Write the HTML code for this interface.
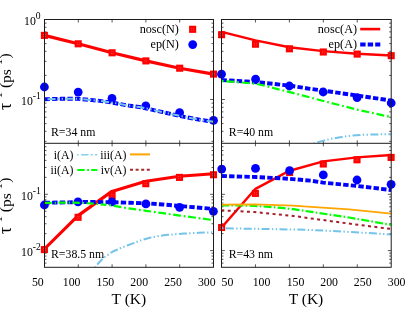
<!DOCTYPE html>
<html><head><meta charset="utf-8"><title>chart</title>
<style>svg{will-change:transform}html,body{margin:0;padding:0;background:#fff;overflow:hidden}body{width:409px;height:312px;font-family:"Liberation Serif",serif}</style>
</head><body>
<svg width="409" height="312" viewBox="0 0 409 312" style="display:block;font-family:'Liberation Serif',serif">
<rect width="409" height="312" fill="#fff"/>
<defs>
<clipPath id="cTL"><rect x="44.5" y="19.5" width="169.0" height="123.80000000000001"/></clipPath>
<clipPath id="cTR"><rect x="221.5" y="19.5" width="169.7" height="123.80000000000001"/></clipPath>
<clipPath id="cBL"><rect x="44.5" y="143.3" width="169.0" height="124.0"/></clipPath>
<clipPath id="cBR"><rect x="221.5" y="143.3" width="169.7" height="124.0"/></clipPath>
</defs>
<g stroke="#444" stroke-width="0.9" fill="none">
<line x1="78.30" y1="19.5" x2="78.30" y2="22.5"/>
<line x1="78.30" y1="140.3" x2="78.30" y2="146.3"/>
<line x1="78.30" y1="267.3" x2="78.30" y2="264.3"/>
<line x1="112.10" y1="19.5" x2="112.10" y2="22.5"/>
<line x1="112.10" y1="140.3" x2="112.10" y2="146.3"/>
<line x1="112.10" y1="267.3" x2="112.10" y2="264.3"/>
<line x1="145.90" y1="19.5" x2="145.90" y2="22.5"/>
<line x1="145.90" y1="140.3" x2="145.90" y2="146.3"/>
<line x1="145.90" y1="267.3" x2="145.90" y2="264.3"/>
<line x1="179.70" y1="19.5" x2="179.70" y2="22.5"/>
<line x1="179.70" y1="140.3" x2="179.70" y2="146.3"/>
<line x1="179.70" y1="267.3" x2="179.70" y2="264.3"/>
<line x1="44.5" y1="99.50" x2="47.9" y2="99.50"/>
<line x1="213.5" y1="99.50" x2="210.1" y2="99.50"/>
<line x1="44.5" y1="75.42" x2="46.5" y2="75.42"/>
<line x1="213.5" y1="75.42" x2="211.5" y2="75.42"/>
<line x1="44.5" y1="61.33" x2="46.5" y2="61.33"/>
<line x1="213.5" y1="61.33" x2="211.5" y2="61.33"/>
<line x1="44.5" y1="51.34" x2="46.5" y2="51.34"/>
<line x1="213.5" y1="51.34" x2="211.5" y2="51.34"/>
<line x1="44.5" y1="43.58" x2="46.5" y2="43.58"/>
<line x1="213.5" y1="43.58" x2="211.5" y2="43.58"/>
<line x1="44.5" y1="37.25" x2="46.5" y2="37.25"/>
<line x1="213.5" y1="37.25" x2="211.5" y2="37.25"/>
<line x1="44.5" y1="31.89" x2="46.5" y2="31.89"/>
<line x1="213.5" y1="31.89" x2="211.5" y2="31.89"/>
<line x1="44.5" y1="27.25" x2="46.5" y2="27.25"/>
<line x1="213.5" y1="27.25" x2="211.5" y2="27.25"/>
<line x1="44.5" y1="23.16" x2="46.5" y2="23.16"/>
<line x1="213.5" y1="23.16" x2="211.5" y2="23.16"/>
<line x1="44.5" y1="141.33" x2="46.5" y2="141.33"/>
<line x1="213.5" y1="141.33" x2="211.5" y2="141.33"/>
<line x1="44.5" y1="131.34" x2="46.5" y2="131.34"/>
<line x1="213.5" y1="131.34" x2="211.5" y2="131.34"/>
<line x1="44.5" y1="123.58" x2="46.5" y2="123.58"/>
<line x1="213.5" y1="123.58" x2="211.5" y2="123.58"/>
<line x1="44.5" y1="117.25" x2="46.5" y2="117.25"/>
<line x1="213.5" y1="117.25" x2="211.5" y2="117.25"/>
<line x1="44.5" y1="111.89" x2="46.5" y2="111.89"/>
<line x1="213.5" y1="111.89" x2="211.5" y2="111.89"/>
<line x1="44.5" y1="107.25" x2="46.5" y2="107.25"/>
<line x1="213.5" y1="107.25" x2="211.5" y2="107.25"/>
<line x1="44.5" y1="103.16" x2="46.5" y2="103.16"/>
<line x1="213.5" y1="103.16" x2="211.5" y2="103.16"/>
<line x1="44.5" y1="194.30" x2="47.9" y2="194.30"/>
<line x1="213.5" y1="194.30" x2="210.1" y2="194.30"/>
<line x1="44.5" y1="177.35" x2="46.5" y2="177.35"/>
<line x1="213.5" y1="177.35" x2="211.5" y2="177.35"/>
<line x1="44.5" y1="167.44" x2="46.5" y2="167.44"/>
<line x1="213.5" y1="167.44" x2="211.5" y2="167.44"/>
<line x1="44.5" y1="160.40" x2="46.5" y2="160.40"/>
<line x1="213.5" y1="160.40" x2="211.5" y2="160.40"/>
<line x1="44.5" y1="154.95" x2="46.5" y2="154.95"/>
<line x1="213.5" y1="154.95" x2="211.5" y2="154.95"/>
<line x1="44.5" y1="150.49" x2="46.5" y2="150.49"/>
<line x1="213.5" y1="150.49" x2="211.5" y2="150.49"/>
<line x1="44.5" y1="146.72" x2="46.5" y2="146.72"/>
<line x1="213.5" y1="146.72" x2="211.5" y2="146.72"/>
<line x1="44.5" y1="250.60" x2="47.9" y2="250.60"/>
<line x1="213.5" y1="250.60" x2="210.1" y2="250.60"/>
<line x1="44.5" y1="233.65" x2="46.5" y2="233.65"/>
<line x1="213.5" y1="233.65" x2="211.5" y2="233.65"/>
<line x1="44.5" y1="223.74" x2="46.5" y2="223.74"/>
<line x1="213.5" y1="223.74" x2="211.5" y2="223.74"/>
<line x1="44.5" y1="216.70" x2="46.5" y2="216.70"/>
<line x1="213.5" y1="216.70" x2="211.5" y2="216.70"/>
<line x1="44.5" y1="211.25" x2="46.5" y2="211.25"/>
<line x1="213.5" y1="211.25" x2="211.5" y2="211.25"/>
<line x1="44.5" y1="206.79" x2="46.5" y2="206.79"/>
<line x1="213.5" y1="206.79" x2="211.5" y2="206.79"/>
<line x1="44.5" y1="203.02" x2="46.5" y2="203.02"/>
<line x1="213.5" y1="203.02" x2="211.5" y2="203.02"/>
<line x1="44.5" y1="199.76" x2="46.5" y2="199.76"/>
<line x1="213.5" y1="199.76" x2="211.5" y2="199.76"/>
<line x1="44.5" y1="196.88" x2="46.5" y2="196.88"/>
<line x1="213.5" y1="196.88" x2="211.5" y2="196.88"/>
<line x1="44.5" y1="263.09" x2="46.5" y2="263.09"/>
<line x1="213.5" y1="263.09" x2="211.5" y2="263.09"/>
<line x1="44.5" y1="259.32" x2="46.5" y2="259.32"/>
<line x1="213.5" y1="259.32" x2="211.5" y2="259.32"/>
<line x1="44.5" y1="256.06" x2="46.5" y2="256.06"/>
<line x1="213.5" y1="256.06" x2="211.5" y2="256.06"/>
<line x1="44.5" y1="253.18" x2="46.5" y2="253.18"/>
<line x1="213.5" y1="253.18" x2="211.5" y2="253.18"/>
<line x1="255.44" y1="19.5" x2="255.44" y2="22.5"/>
<line x1="255.44" y1="140.3" x2="255.44" y2="146.3"/>
<line x1="255.44" y1="267.3" x2="255.44" y2="264.3"/>
<line x1="289.38" y1="19.5" x2="289.38" y2="22.5"/>
<line x1="289.38" y1="140.3" x2="289.38" y2="146.3"/>
<line x1="289.38" y1="267.3" x2="289.38" y2="264.3"/>
<line x1="323.32" y1="19.5" x2="323.32" y2="22.5"/>
<line x1="323.32" y1="140.3" x2="323.32" y2="146.3"/>
<line x1="323.32" y1="267.3" x2="323.32" y2="264.3"/>
<line x1="357.26" y1="19.5" x2="357.26" y2="22.5"/>
<line x1="357.26" y1="140.3" x2="357.26" y2="146.3"/>
<line x1="357.26" y1="267.3" x2="357.26" y2="264.3"/>
<line x1="221.5" y1="99.50" x2="224.9" y2="99.50"/>
<line x1="391.2" y1="99.50" x2="387.8" y2="99.50"/>
<line x1="221.5" y1="75.42" x2="223.5" y2="75.42"/>
<line x1="391.2" y1="75.42" x2="389.2" y2="75.42"/>
<line x1="221.5" y1="61.33" x2="223.5" y2="61.33"/>
<line x1="391.2" y1="61.33" x2="389.2" y2="61.33"/>
<line x1="221.5" y1="51.34" x2="223.5" y2="51.34"/>
<line x1="391.2" y1="51.34" x2="389.2" y2="51.34"/>
<line x1="221.5" y1="43.58" x2="223.5" y2="43.58"/>
<line x1="391.2" y1="43.58" x2="389.2" y2="43.58"/>
<line x1="221.5" y1="37.25" x2="223.5" y2="37.25"/>
<line x1="391.2" y1="37.25" x2="389.2" y2="37.25"/>
<line x1="221.5" y1="31.89" x2="223.5" y2="31.89"/>
<line x1="391.2" y1="31.89" x2="389.2" y2="31.89"/>
<line x1="221.5" y1="27.25" x2="223.5" y2="27.25"/>
<line x1="391.2" y1="27.25" x2="389.2" y2="27.25"/>
<line x1="221.5" y1="23.16" x2="223.5" y2="23.16"/>
<line x1="391.2" y1="23.16" x2="389.2" y2="23.16"/>
<line x1="221.5" y1="141.33" x2="223.5" y2="141.33"/>
<line x1="391.2" y1="141.33" x2="389.2" y2="141.33"/>
<line x1="221.5" y1="131.34" x2="223.5" y2="131.34"/>
<line x1="391.2" y1="131.34" x2="389.2" y2="131.34"/>
<line x1="221.5" y1="123.58" x2="223.5" y2="123.58"/>
<line x1="391.2" y1="123.58" x2="389.2" y2="123.58"/>
<line x1="221.5" y1="117.25" x2="223.5" y2="117.25"/>
<line x1="391.2" y1="117.25" x2="389.2" y2="117.25"/>
<line x1="221.5" y1="111.89" x2="223.5" y2="111.89"/>
<line x1="391.2" y1="111.89" x2="389.2" y2="111.89"/>
<line x1="221.5" y1="107.25" x2="223.5" y2="107.25"/>
<line x1="391.2" y1="107.25" x2="389.2" y2="107.25"/>
<line x1="221.5" y1="103.16" x2="223.5" y2="103.16"/>
<line x1="391.2" y1="103.16" x2="389.2" y2="103.16"/>
<line x1="221.5" y1="194.30" x2="224.9" y2="194.30"/>
<line x1="391.2" y1="194.30" x2="387.8" y2="194.30"/>
<line x1="221.5" y1="177.35" x2="223.5" y2="177.35"/>
<line x1="391.2" y1="177.35" x2="389.2" y2="177.35"/>
<line x1="221.5" y1="167.44" x2="223.5" y2="167.44"/>
<line x1="391.2" y1="167.44" x2="389.2" y2="167.44"/>
<line x1="221.5" y1="160.40" x2="223.5" y2="160.40"/>
<line x1="391.2" y1="160.40" x2="389.2" y2="160.40"/>
<line x1="221.5" y1="154.95" x2="223.5" y2="154.95"/>
<line x1="391.2" y1="154.95" x2="389.2" y2="154.95"/>
<line x1="221.5" y1="150.49" x2="223.5" y2="150.49"/>
<line x1="391.2" y1="150.49" x2="389.2" y2="150.49"/>
<line x1="221.5" y1="146.72" x2="223.5" y2="146.72"/>
<line x1="391.2" y1="146.72" x2="389.2" y2="146.72"/>
<line x1="221.5" y1="250.60" x2="224.9" y2="250.60"/>
<line x1="391.2" y1="250.60" x2="387.8" y2="250.60"/>
<line x1="221.5" y1="233.65" x2="223.5" y2="233.65"/>
<line x1="391.2" y1="233.65" x2="389.2" y2="233.65"/>
<line x1="221.5" y1="223.74" x2="223.5" y2="223.74"/>
<line x1="391.2" y1="223.74" x2="389.2" y2="223.74"/>
<line x1="221.5" y1="216.70" x2="223.5" y2="216.70"/>
<line x1="391.2" y1="216.70" x2="389.2" y2="216.70"/>
<line x1="221.5" y1="211.25" x2="223.5" y2="211.25"/>
<line x1="391.2" y1="211.25" x2="389.2" y2="211.25"/>
<line x1="221.5" y1="206.79" x2="223.5" y2="206.79"/>
<line x1="391.2" y1="206.79" x2="389.2" y2="206.79"/>
<line x1="221.5" y1="203.02" x2="223.5" y2="203.02"/>
<line x1="391.2" y1="203.02" x2="389.2" y2="203.02"/>
<line x1="221.5" y1="199.76" x2="223.5" y2="199.76"/>
<line x1="391.2" y1="199.76" x2="389.2" y2="199.76"/>
<line x1="221.5" y1="196.88" x2="223.5" y2="196.88"/>
<line x1="391.2" y1="196.88" x2="389.2" y2="196.88"/>
<line x1="221.5" y1="263.09" x2="223.5" y2="263.09"/>
<line x1="391.2" y1="263.09" x2="389.2" y2="263.09"/>
<line x1="221.5" y1="259.32" x2="223.5" y2="259.32"/>
<line x1="391.2" y1="259.32" x2="389.2" y2="259.32"/>
<line x1="221.5" y1="256.06" x2="223.5" y2="256.06"/>
<line x1="391.2" y1="256.06" x2="389.2" y2="256.06"/>
<line x1="221.5" y1="253.18" x2="223.5" y2="253.18"/>
<line x1="391.2" y1="253.18" x2="389.2" y2="253.18"/>
</g>
<g>
<polyline points="44.4,35.4 78.2,43.8 112.1,52.8 145.9,60.9 179.7,68.2 213.5,74.1" stroke="#f00" stroke-width="3.15" fill="none" stroke-linejoin="round"/>
<rect x="40.85" y="31.85" width="7.1" height="7.1" fill="#f00"/><rect x="43.15" y="34.15" width="0.7" height="0.7" fill="#ff6a6a"/><rect x="43.15" y="35.95" width="0.7" height="0.7" fill="#ff6a6a"/><rect x="44.95" y="34.15" width="0.7" height="0.7" fill="#ff6a6a"/><rect x="44.95" y="35.95" width="0.7" height="0.7" fill="#ff6a6a"/>
<rect x="74.65" y="40.25" width="7.1" height="7.1" fill="#f00"/><rect x="76.95" y="42.55" width="0.7" height="0.7" fill="#ff6a6a"/><rect x="76.95" y="44.35" width="0.7" height="0.7" fill="#ff6a6a"/><rect x="78.75" y="42.55" width="0.7" height="0.7" fill="#ff6a6a"/><rect x="78.75" y="44.35" width="0.7" height="0.7" fill="#ff6a6a"/>
<rect x="108.55" y="49.25" width="7.1" height="7.1" fill="#f00"/><rect x="110.85" y="51.55" width="0.7" height="0.7" fill="#ff6a6a"/><rect x="110.85" y="53.35" width="0.7" height="0.7" fill="#ff6a6a"/><rect x="112.65" y="51.55" width="0.7" height="0.7" fill="#ff6a6a"/><rect x="112.65" y="53.35" width="0.7" height="0.7" fill="#ff6a6a"/>
<rect x="142.35" y="57.35" width="7.1" height="7.1" fill="#f00"/><rect x="144.65" y="59.65" width="0.7" height="0.7" fill="#ff6a6a"/><rect x="144.65" y="61.45" width="0.7" height="0.7" fill="#ff6a6a"/><rect x="146.45" y="59.65" width="0.7" height="0.7" fill="#ff6a6a"/><rect x="146.45" y="61.45" width="0.7" height="0.7" fill="#ff6a6a"/>
<rect x="176.15" y="64.65" width="7.1" height="7.1" fill="#f00"/><rect x="178.45" y="66.95" width="0.7" height="0.7" fill="#ff6a6a"/><rect x="178.45" y="68.75" width="0.7" height="0.7" fill="#ff6a6a"/><rect x="180.25" y="66.95" width="0.7" height="0.7" fill="#ff6a6a"/><rect x="180.25" y="68.75" width="0.7" height="0.7" fill="#ff6a6a"/>
<rect x="209.95" y="70.55" width="7.1" height="7.1" fill="#f00"/><rect x="212.25" y="72.85" width="0.7" height="0.7" fill="#ff6a6a"/><rect x="212.25" y="74.65" width="0.7" height="0.7" fill="#ff6a6a"/><rect x="214.05" y="72.85" width="0.7" height="0.7" fill="#ff6a6a"/><rect x="214.05" y="74.65" width="0.7" height="0.7" fill="#ff6a6a"/>
<circle cx="44.4" cy="87.0" r="4.4" fill="#00f"/>
<circle cx="78.2" cy="92.1" r="4.4" fill="#00f"/>
<circle cx="112.0" cy="98.4" r="4.4" fill="#00f"/>
<circle cx="145.8" cy="105.8" r="4.4" fill="#00f"/>
<circle cx="179.6" cy="112.7" r="4.4" fill="#00f"/>
<circle cx="213.5" cy="120.4" r="4.4" fill="#00f"/>
<polyline points="44.5,99.3 61.0,98.8 78.0,98.8 90.0,99.9 100.0,100.9 112.0,102.6 130.0,105.8 141.0,107.3 146.0,108.3 163.0,112.2 180.0,116.0 197.0,119.3 213.5,121.8" stroke="#00f" stroke-width="3.9" fill="none" stroke-dasharray="5.4 2.23"/>
<polyline points="44.5,99.3 61.0,98.8 78.0,98.8 90.0,99.9 100.0,100.9 112.0,102.6 130.0,105.8 141.0,107.3 146.0,108.3 163.0,112.2 180.0,116.0 197.0,119.3 213.5,121.8" stroke="#74c4ea" stroke-width="2" fill="none" stroke-dasharray="8 2.3 1.4 2.4 1.4 2.4" stroke-dashoffset="14.90"/>
</g>
<g>
<polyline points="221.6,31.9 255.5,40.4 289.4,47.3 323.3,51.1 357.2,53.8 391.2,55.5" stroke="#f00" stroke-width="2.45" fill="none" stroke-linejoin="round"/>
<rect x="218.05" y="31.15" width="7.1" height="7.1" fill="#f00"/><rect x="220.35" y="33.45" width="0.7" height="0.7" fill="#ff6a6a"/><rect x="220.35" y="35.25" width="0.7" height="0.7" fill="#ff6a6a"/><rect x="222.15" y="33.45" width="0.7" height="0.7" fill="#ff6a6a"/><rect x="222.15" y="35.25" width="0.7" height="0.7" fill="#ff6a6a"/>
<rect x="251.95" y="40.65" width="7.1" height="7.1" fill="#f00"/><rect x="254.25" y="42.95" width="0.7" height="0.7" fill="#ff6a6a"/><rect x="254.25" y="44.75" width="0.7" height="0.7" fill="#ff6a6a"/><rect x="256.05" y="42.95" width="0.7" height="0.7" fill="#ff6a6a"/><rect x="256.05" y="44.75" width="0.7" height="0.7" fill="#ff6a6a"/>
<rect x="285.85" y="45.25" width="7.1" height="7.1" fill="#f00"/><rect x="288.15" y="47.55" width="0.7" height="0.7" fill="#ff6a6a"/><rect x="288.15" y="49.35" width="0.7" height="0.7" fill="#ff6a6a"/><rect x="289.95" y="47.55" width="0.7" height="0.7" fill="#ff6a6a"/><rect x="289.95" y="49.35" width="0.7" height="0.7" fill="#ff6a6a"/>
<rect x="319.75" y="48.45" width="7.1" height="7.1" fill="#f00"/><rect x="322.05" y="50.75" width="0.7" height="0.7" fill="#ff6a6a"/><rect x="322.05" y="52.55" width="0.7" height="0.7" fill="#ff6a6a"/><rect x="323.85" y="50.75" width="0.7" height="0.7" fill="#ff6a6a"/><rect x="323.85" y="52.55" width="0.7" height="0.7" fill="#ff6a6a"/>
<rect x="353.65" y="50.55" width="7.1" height="7.1" fill="#f00"/><rect x="355.95" y="52.85" width="0.7" height="0.7" fill="#ff6a6a"/><rect x="355.95" y="54.65" width="0.7" height="0.7" fill="#ff6a6a"/><rect x="357.75" y="52.85" width="0.7" height="0.7" fill="#ff6a6a"/><rect x="357.75" y="54.65" width="0.7" height="0.7" fill="#ff6a6a"/>
<rect x="387.65" y="52.15" width="7.1" height="7.1" fill="#f00"/><rect x="389.95" y="54.45" width="0.7" height="0.7" fill="#ff6a6a"/><rect x="389.95" y="56.25" width="0.7" height="0.7" fill="#ff6a6a"/><rect x="391.75" y="54.45" width="0.7" height="0.7" fill="#ff6a6a"/><rect x="391.75" y="56.25" width="0.7" height="0.7" fill="#ff6a6a"/>
<circle cx="221.5" cy="74.2" r="4.4" fill="#00f"/>
<circle cx="255.6" cy="79.2" r="4.4" fill="#00f"/>
<circle cx="289.4" cy="86.0" r="4.4" fill="#00f"/>
<circle cx="323.2" cy="92.0" r="4.4" fill="#00f"/>
<circle cx="357.1" cy="97.6" r="4.4" fill="#00f"/>
<circle cx="391.2" cy="103.0" r="4.4" fill="#00f"/>
<polyline points="221.5,80.0 246.5,81.5 263.0,82.8 289.4,85.6 306.0,88.2 323.0,90.6 357.0,95.5 391.2,100.6" stroke="#00f" stroke-width="3.9" fill="none" stroke-dasharray="5.4 2.23"/>
<g clip-path="url(#cTR)"><polyline points="310.0,146.5 314.0,143.6 318.0,142.1 323.5,140.6 331.0,138.8 340.0,137.3 348.0,136.1 356.4,135.2 364.0,134.8 372.0,134.5 391.2,134.2" stroke="#74c4ea" stroke-width="2" fill="none" stroke-dasharray="8 2.3 1.4 2.4 1.4 2.4" stroke-dashoffset="9.33"/></g>
<polyline points="221.5,80.9 241.4,82.5 256.7,83.9 265.0,85.8 275.6,88.6 285.0,90.9 295.1,93.5 305.0,96.1 314.7,98.7 325.0,101.4 336.0,104.2 357.0,109.6 391.2,117.1" stroke="#00ff00" stroke-width="2.2" fill="none" stroke-dasharray="7.9 2.9 1.8 2.8" stroke-dashoffset="10.55"/>
</g>
<g>
<polyline points="44.4,249.0 78.1,215.6 111.9,191.4 145.8,181.3 179.5,176.3 213.5,173.7" stroke="#f00" stroke-width="3.15" fill="none" stroke-linejoin="round"/>
<rect x="40.85" y="246.05" width="7.1" height="7.1" fill="#f00"/><rect x="43.15" y="248.35" width="0.7" height="0.7" fill="#ff6a6a"/><rect x="43.15" y="250.15" width="0.7" height="0.7" fill="#ff6a6a"/><rect x="44.95" y="248.35" width="0.7" height="0.7" fill="#ff6a6a"/><rect x="44.95" y="250.15" width="0.7" height="0.7" fill="#ff6a6a"/>
<rect x="74.55" y="213.75" width="7.1" height="7.1" fill="#f00"/><rect x="76.85" y="216.05" width="0.7" height="0.7" fill="#ff6a6a"/><rect x="76.85" y="217.85" width="0.7" height="0.7" fill="#ff6a6a"/><rect x="78.65" y="216.05" width="0.7" height="0.7" fill="#ff6a6a"/><rect x="78.65" y="217.85" width="0.7" height="0.7" fill="#ff6a6a"/>
<rect x="108.55" y="191.95" width="7.1" height="7.1" fill="#f00"/><rect x="110.85" y="194.25" width="0.7" height="0.7" fill="#ff6a6a"/><rect x="110.85" y="196.05" width="0.7" height="0.7" fill="#ff6a6a"/><rect x="112.65" y="194.25" width="0.7" height="0.7" fill="#ff6a6a"/><rect x="112.65" y="196.05" width="0.7" height="0.7" fill="#ff6a6a"/>
<rect x="142.25" y="180.15" width="7.1" height="7.1" fill="#f00"/><rect x="144.55" y="182.45" width="0.7" height="0.7" fill="#ff6a6a"/><rect x="144.55" y="184.25" width="0.7" height="0.7" fill="#ff6a6a"/><rect x="146.35" y="182.45" width="0.7" height="0.7" fill="#ff6a6a"/><rect x="146.35" y="184.25" width="0.7" height="0.7" fill="#ff6a6a"/>
<rect x="175.95" y="173.85" width="7.1" height="7.1" fill="#f00"/><rect x="178.25" y="176.15" width="0.7" height="0.7" fill="#ff6a6a"/><rect x="178.25" y="177.95" width="0.7" height="0.7" fill="#ff6a6a"/><rect x="180.05" y="176.15" width="0.7" height="0.7" fill="#ff6a6a"/><rect x="180.05" y="177.95" width="0.7" height="0.7" fill="#ff6a6a"/>
<rect x="209.95" y="171.20" width="7.1" height="7.1" fill="#f00"/><rect x="212.25" y="173.50" width="0.7" height="0.7" fill="#ff6a6a"/><rect x="212.25" y="175.30" width="0.7" height="0.7" fill="#ff6a6a"/><rect x="214.05" y="173.50" width="0.7" height="0.7" fill="#ff6a6a"/><rect x="214.05" y="175.30" width="0.7" height="0.7" fill="#ff6a6a"/>
<circle cx="44.4" cy="205.0" r="4.4" fill="#00f"/>
<circle cx="78.0" cy="201.9" r="4.4" fill="#00f"/>
<circle cx="112.0" cy="201.9" r="4.4" fill="#00f"/>
<circle cx="145.9" cy="203.9" r="4.4" fill="#00f"/>
<circle cx="179.6" cy="207.3" r="4.4" fill="#00f"/>
<circle cx="213.4" cy="211.3" r="4.4" fill="#00f"/>
<polyline points="44.5,202.7 65.0,202.4 78.0,202.1 95.0,202.0 112.0,202.2 125.0,202.6 146.0,203.3 163.0,204.5 180.0,206.0 197.0,207.5 213.5,209.0" stroke="#00f" stroke-width="3.9" fill="none" stroke-dasharray="5.4 2.23"/>
<g clip-path="url(#cBL)"><polyline points="92.0,272.0 95.9,266.3 99.0,262.5 102.5,259.0 105.4,256.5 108.3,254.6 110.5,252.9 114.0,251.0 117.9,249.4 120.8,248.0 124.5,246.5 127.8,245.3 131.5,243.9 135.5,242.4 138.4,241.2 141.6,240.1 144.6,239.2 149.8,237.7 157.0,236.3 165.4,235.0 175.0,234.2 184.0,233.6 198.7,232.8 213.5,232.2" stroke="#74c4ea" stroke-width="2" fill="none" stroke-dasharray="8 2.3 1.4 2.4 1.4 2.4" stroke-dashoffset="8.96"/></g>
<polyline points="44.5,202.9 65.0,202.6 80.0,202.8 95.0,203.8 100.5,204.3" stroke="#00ff00" stroke-width="2.2" fill="none" stroke-dasharray="7.2 2.9 1.4 2.5" stroke-dashoffset="13.90"/>
<polyline points="100.5,204.3 112.0,205.5 125.0,207.8 146.0,210.8 163.0,213.2 180.0,215.6 197.0,217.9 213.5,220.1" stroke="#00ff00" stroke-width="2.2" fill="none" stroke-dasharray="7.8 2.8 1.8 2.65" stroke-dashoffset="1.80"/>
</g>
<g>
<polyline points="221.6,227.5 255.5,188.8 289.6,170.7 323.3,161.4 357.0,157.4 391.2,155.0" stroke="#f00" stroke-width="2.45" fill="none" stroke-linejoin="round"/>
<rect x="218.05" y="223.95" width="7.1" height="7.1" fill="#f00"/><rect x="220.35" y="226.25" width="0.7" height="0.7" fill="#ff6a6a"/><rect x="220.35" y="228.05" width="0.7" height="0.7" fill="#ff6a6a"/><rect x="222.15" y="226.25" width="0.7" height="0.7" fill="#ff6a6a"/><rect x="222.15" y="228.05" width="0.7" height="0.7" fill="#ff6a6a"/>
<rect x="251.85" y="189.85" width="7.1" height="7.1" fill="#f00"/><rect x="254.15" y="192.15" width="0.7" height="0.7" fill="#ff6a6a"/><rect x="254.15" y="193.95" width="0.7" height="0.7" fill="#ff6a6a"/><rect x="255.95" y="192.15" width="0.7" height="0.7" fill="#ff6a6a"/><rect x="255.95" y="193.95" width="0.7" height="0.7" fill="#ff6a6a"/>
<rect x="286.05" y="168.95" width="7.1" height="7.1" fill="#f00"/><rect x="288.35" y="171.25" width="0.7" height="0.7" fill="#ff6a6a"/><rect x="288.35" y="173.05" width="0.7" height="0.7" fill="#ff6a6a"/><rect x="290.15" y="171.25" width="0.7" height="0.7" fill="#ff6a6a"/><rect x="290.15" y="173.05" width="0.7" height="0.7" fill="#ff6a6a"/>
<rect x="319.75" y="160.45" width="7.1" height="7.1" fill="#f00"/><rect x="322.05" y="162.75" width="0.7" height="0.7" fill="#ff6a6a"/><rect x="322.05" y="164.55" width="0.7" height="0.7" fill="#ff6a6a"/><rect x="323.85" y="162.75" width="0.7" height="0.7" fill="#ff6a6a"/><rect x="323.85" y="164.55" width="0.7" height="0.7" fill="#ff6a6a"/>
<rect x="353.45" y="156.25" width="7.1" height="7.1" fill="#f00"/><rect x="355.75" y="158.55" width="0.7" height="0.7" fill="#ff6a6a"/><rect x="355.75" y="160.35" width="0.7" height="0.7" fill="#ff6a6a"/><rect x="357.55" y="158.55" width="0.7" height="0.7" fill="#ff6a6a"/><rect x="357.55" y="160.35" width="0.7" height="0.7" fill="#ff6a6a"/>
<rect x="387.55" y="153.85" width="7.1" height="7.1" fill="#f00"/><rect x="389.85" y="156.15" width="0.7" height="0.7" fill="#ff6a6a"/><rect x="389.85" y="157.95" width="0.7" height="0.7" fill="#ff6a6a"/><rect x="391.65" y="156.15" width="0.7" height="0.7" fill="#ff6a6a"/><rect x="391.65" y="157.95" width="0.7" height="0.7" fill="#ff6a6a"/>
<circle cx="221.7" cy="169.1" r="4.4" fill="#00f"/>
<circle cx="255.5" cy="168.4" r="4.4" fill="#00f"/>
<circle cx="289.6" cy="170.7" r="4.4" fill="#00f"/>
<circle cx="323.3" cy="174.9" r="4.4" fill="#00f"/>
<circle cx="357.0" cy="180.0" r="4.4" fill="#00f"/>
<circle cx="391.1" cy="184.3" r="4.4" fill="#00f"/>
<polyline points="221.5,176.0 255.5,177.0 289.6,178.8 311.0,180.7 323.0,182.6 357.0,186.0 391.2,190.0" stroke="#00f" stroke-width="3.9" fill="none" stroke-dasharray="5.4 2.23"/>
<polyline points="221.5,228.3 254.5,228.8 293.0,229.5 311.0,230.0 349.0,231.9 391.2,234.4" stroke="#74c4ea" stroke-width="2" fill="none" stroke-dasharray="8 2.3 1.4 2.4 1.4 2.4" stroke-dashoffset="13.60"/>
<polyline points="221.5,205.4 240.0,205.4 255.0,205.9 269.0,206.9 282.0,207.9 293.0,209.2 309.7,211.6 349.0,217.5 391.2,224.9" stroke="#00ff00" stroke-width="2.2" fill="none" stroke-dasharray="8 2.2 1.6 2.3" stroke-dashoffset="0.25"/>
<polyline points="221.5,204.6 254.5,204.4 293.0,205.7 311.0,206.8 349.0,209.4 391.2,213.6" stroke="#ffa500" stroke-width="1.8" fill="none"/>
<polyline points="221.5,210.3 254.5,212.1 293.0,215.9 311.0,218.4 349.0,223.6 391.2,229.0" stroke="#a51e2c" stroke-width="2" fill="none" stroke-dasharray="3 3.42" stroke-dashoffset="0.21"/>
</g>
<g stroke="#1c1c1c" stroke-width="1" fill="none">
<rect x="44.5" y="19.5" width="169.0" height="247.8"/>
<line x1="44.5" y1="143.3" x2="213.5" y2="143.3"/>
<rect x="221.5" y="19.5" width="169.7" height="247.8"/>
<line x1="221.5" y1="143.3" x2="391.2" y2="143.3"/>
</g>
<g font-size="11.8" fill="#000">
<text x="178.9" y="33" text-anchor="end" font-size="12.2">nosc(N)</text>
<text x="178.9" y="48.3" text-anchor="end" font-size="12.2">ep(N)</text>
<rect x="189.10" y="25.75" width="7.1" height="7.1" fill="#f00"/><rect x="191.40" y="28.05" width="0.7" height="0.7" fill="#ff6a6a"/><rect x="191.40" y="29.85" width="0.7" height="0.7" fill="#ff6a6a"/><rect x="193.20" y="28.05" width="0.7" height="0.7" fill="#ff6a6a"/><rect x="193.20" y="29.85" width="0.7" height="0.7" fill="#ff6a6a"/>
<circle cx="192.7" cy="44.6" r="4.4" fill="#00f"/>
<text x="357" y="33" text-anchor="end" font-size="12.2">nosc(A)</text>
<text x="357" y="48.4" text-anchor="end" font-size="12.2">ep(A)</text>
<line x1="360.2" y1="29.1" x2="380.2" y2="29.1" stroke="#f00" stroke-width="2.6"/>
<line x1="360.2" y1="44.5" x2="380.3" y2="44.5" stroke="#00f" stroke-width="3.9" stroke-dasharray="5.4 2.1"/>
<text x="73.4" y="158.5" text-anchor="end">i(A)</text>
<text x="73.4" y="173.9" text-anchor="end">ii(A)</text>
<text x="126.4" y="158.5" text-anchor="end">iii(A)</text>
<text x="126.4" y="173.9" text-anchor="end">iv(A)</text>
<line x1="77.1" y1="154.8" x2="97.3" y2="154.8" stroke="#87ceeb" stroke-width="1.6" stroke-dasharray="1.5 2.6 7.3 2.2 1.9 2.5 2.2 9"/>
<line x1="77.3" y1="169.9" x2="97.3" y2="169.9" stroke="#00ff00" stroke-width="2" stroke-dasharray="7.3 2.6 1.8 2.2 6.1 9"/>
<line x1="130" y1="154.4" x2="150" y2="154.4" stroke="#ffa500" stroke-width="2"/>
<line x1="130" y1="169.8" x2="150" y2="169.8" stroke="#a52a2a" stroke-width="2" stroke-dasharray="3 2.6"/>
<text x="51.0" y="135.8">R=34 nm</text>
<text x="228.8" y="135.8">R=40 nm</text>
<text x="51.0" y="257.6">R=38.5 nm</text>
<text x="228.7" y="257.6">R=43 nm</text>
<text x="37.8" y="285.7" text-anchor="middle">50</text>
<text x="227.5" y="285.7" text-anchor="middle">50</text>
<text x="71.6" y="285.7" text-anchor="middle">100</text>
<text x="261.5" y="285.7" text-anchor="middle">100</text>
<text x="105.4" y="285.7" text-anchor="middle">150</text>
<text x="295.5" y="285.7" text-anchor="middle">150</text>
<text x="139.2" y="285.7" text-anchor="middle">200</text>
<text x="329.1" y="285.7" text-anchor="middle">200</text>
<text x="173.0" y="285.7" text-anchor="middle">250</text>
<text x="362.7" y="285.7" text-anchor="middle">250</text>
<text x="206.8" y="285.7" text-anchor="middle">300</text>
<text x="396.6" y="285.7" text-anchor="middle">300</text>
<text x="24.0" y="25.2">10</text><text x="35.7" y="19.0" font-size="9.6">0</text>
<text x="21.0" y="105.2">10</text><text x="32.7" y="99.0" font-size="9.6">-1</text>
<text x="21.0" y="200.0">10</text><text x="32.7" y="193.8" font-size="9.6">-1</text>
<text x="21.0" y="256.3">10</text><text x="32.7" y="250.1" font-size="9.6">-2</text>
</g>
<g font-size="15.5" fill="#000">
<text x="128.9" y="304" text-anchor="middle">T (K)</text>
<text x="306.0" y="304" text-anchor="middle">T (K)</text>
<g transform="translate(10.8,81.8) rotate(-90)">
<text x="-28.1" y="0" font-size="17.8">τ</text>
<text x="-20.5" y="-8.6" font-size="12.4">-1</text>
<text x="-6.3" y="-0.4">(</text><text x="-1.15" y="0">ps</text>
<text x="12.6" y="-8.6" font-size="12.4">-1</text>
<text x="23.2" y="-0.5">)</text>
</g>
<g transform="translate(10.8,205.9) rotate(-90)">
<text x="-28.1" y="0" font-size="17.8">τ</text>
<text x="-20.5" y="-8.6" font-size="12.4">-1</text>
<text x="-6.3" y="-0.4">(</text><text x="-1.15" y="0">ps</text>
<text x="12.6" y="-8.6" font-size="12.4">-1</text>
<text x="23.2" y="-0.5">)</text>
</g>
</g>
</svg>
</body></html>
